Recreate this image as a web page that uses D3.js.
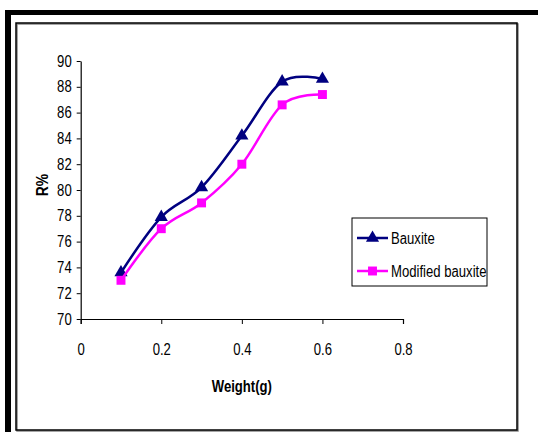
<!DOCTYPE html>
<html>
<head>
<meta charset="utf-8">
<script src="https://cdn.jsdelivr.net/npm/d3@7"></script>
<style>
  html, body { margin: 0; padding: 0; background: #fff; }
  text { font-family: 'Liberation Sans', Arial, sans-serif; }
</style>
</head>
<body>
<div id="chart"></div>
<script>
const weights = [0.1, 0.2, 0.3, 0.4, 0.5, 0.6]
const bauxite = [73.6, 77.9, 80.2, 84.2, 88.4, 88.6]
const modified = [73.0, 77.0, 79.0, 82.0, 86.6, 87.4]
const xTicks = [0, 0.2, 0.4, 0.6, 0.8]
const yTicks = [70, 72, 74, 76, 78, 80, 82, 84, 86, 88, 90]
const seriesNames = ['Bauxite', 'Modified bauxite']

const W = 538
const H = 432
const navy = '#000080'
const magenta = '#ff00ff'
const narrow = 0.82 // no Arial Narrow installed, squeeze Liberation Sans instead

const svg = d3.select('#chart').append('svg')
  .attr('width', W)
  .attr('height', H)

// squeeze text horizontally around its anchor point
const condense = (sel) => {
  sel.each(function () {
    const t = d3.select(this)
    const x = +t.attr('x') || 0
    t.attr('x', x / narrow).attr('transform', `scale(${narrow},1)`)
  })
}

// frame: thick outer lines (top + left) and thin inner box
svg.append('rect').attr('x', 5).attr('y', 10).attr('width', W - 5).attr('height', 5).attr('fill', '#000')
svg.append('rect').attr('x', 5).attr('y', 10).attr('width', 6).attr('height', H - 10).attr('fill', '#000')
svg.append('rect').attr('x', 17).attr('y', 24).attr('width', 501).attr('height', 407)
  .attr('fill', 'none').attr('stroke', '#888').attr('stroke-width', 1.5)
svg.append('rect').attr('x', 16).attr('y', 23).attr('width', 501).attr('height', 407)
  .attr('fill', 'none').attr('stroke', '#000').attr('stroke-width', 1.5)

const xScale = d3.scaleLinear().domain([0, 0.8]).range([80.7, 403])
const yScale = d3.scaleLinear().domain([70, 90]).range([319, 61])

// axes
const xAxis = svg.append('g')
  .attr('transform', `translate(0,${yScale(70)})`)
  .call(d3.axisBottom(xScale).tickValues(xTicks).tickSize(5).tickPadding(20)
    .tickFormat(d => d === 0 ? '0' : d3.format('.1f')(d)))
xAxis.select('.domain').attr('stroke', '#000').attr('stroke-width', 1.2)
xAxis.selectAll('.tick line').attr('stroke', '#000')
xAxis.selectAll('text').attr('font-size', 16).attr('fill', '#000')
  .attr('font-family', "'Liberation Sans', sans-serif")
  .call(condense)

const yAxis = svg.append('g')
  .attr('transform', `translate(${xScale(0)},0)`)
  .call(d3.axisLeft(yScale).tickValues(yTicks).tickSize(4).tickSizeOuter(0).tickPadding(5))
yAxis.select('.domain').attr('stroke', '#000').attr('stroke-width', 1.2)
yAxis.selectAll('.tick line').attr('stroke', '#000')
yAxis.selectAll('text').attr('font-size', 16).attr('fill', '#000')
  .attr('font-family', "'Liberation Sans', sans-serif")
  .call(condense)

// axis titles
svg.append('text')
  .attr('x', xScale(0.4)).attr('y', 392)
  .attr('text-anchor', 'middle')
  .attr('font-size', 16).attr('font-weight', 'bold')
  .text('Weight(g)')
  .call(condense)
svg.append('g')
  .attr('transform', `translate(48,185) rotate(-90)`)
  .append('text')
  .attr('text-anchor', 'middle')
  .attr('font-size', 17).attr('font-weight', 'bold')
  .text('R%')
  .call(condense)

// lines
const line = d3.line()
  .x(d => xScale(d[0]))
  .y(d => yScale(d[1]))
  .curve(d3.curveCardinal.tension(0))

const triangle = d3.symbol().type(d3.symbolTriangle).size(75)
const square = d3.symbol().type(d3.symbolSquare).size(80)

const series = [
  { name: seriesNames[0], values: bauxite, color: navy, symbol: triangle },
  { name: seriesNames[1], values: modified, color: magenta, symbol: square },
]

series.forEach(s => {
  const pts = weights.map((w, i) => [w, s.values[i]])
  svg.append('path')
    .datum(pts)
    .attr('fill', 'none')
    .attr('stroke', s.color)
    .attr('stroke-width', 2.5)
    .attr('d', line)
  svg.selectAll(null)
    .data(pts)
    .enter()
    .append('path')
    .attr('d', s.symbol)
    .attr('transform', d => `translate(${xScale(d[0])},${yScale(d[1])})`)
    .attr('fill', s.color)
})

// legend
const legend = svg.append('g').attr('transform', 'translate(352,218)')
legend.append('rect')
  .attr('width', 135).attr('height', 68)
  .attr('fill', '#fff').attr('stroke', '#000').attr('stroke-width', 1)
series.forEach((s, i) => {
  const y = 20 + i * 33
  legend.append('line')
    .attr('x1', 5).attr('x2', 36).attr('y1', y).attr('y2', y)
    .attr('stroke', s.color).attr('stroke-width', 2.5)
  legend.append('path')
    .attr('d', s.symbol)
    .attr('transform', `translate(20.5,${y})`)
    .attr('fill', s.color)
  legend.append('text')
    .attr('x', 39).attr('y', y + 6)
    .attr('font-size', 16)
    .text(s.name)
    .call(condense)
})
</script>
</body>
</html>
